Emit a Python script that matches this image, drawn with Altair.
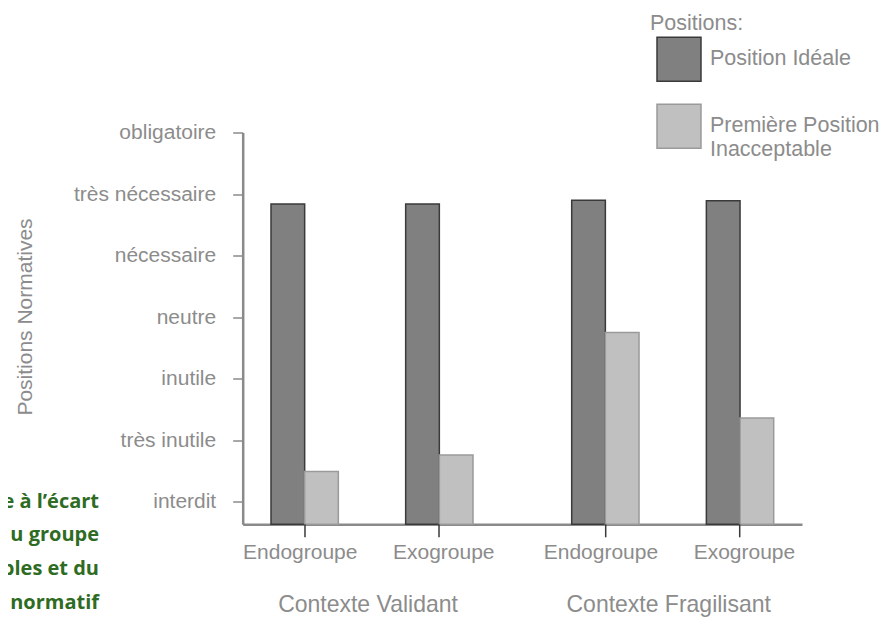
import json
import altair as alt
import pandas as pd

# ---------------- data ----------------
CONTEXTS = ["Contexte Validant", "Contexte Fragilisant"]
GROUPS = ["Endogroupe", "Exogroupe"]
SERIES = ["Position Idéale", "Première Position Inacceptable"]
# order: Validant-Endo, Validant-Exo, Fragilisant-Endo, Fragilisant-Exo
IDEALE = [4.84, 4.84, 4.90, 4.89]
PREMIERE = [0.49, 0.76, 2.75, 1.36]
LEVELS = ["interdit", "très inutile", "inutile", "neutre",
          "nécessaire", "très nécessaire", "obligatoire"]
SIDE_NOTE = ["e à l’écart", "u groupe", "ples et du", "normatif"]

Y_MIN = -0.367
GAPS = [" ", "  "]

rows = []
i = 0
for c in CONTEXTS:
    for g in GROUPS:
        for s, vals in zip(SERIES, [IDEALE, PREMIERE]):
            rows.append({"context": c, "group": g, "series": s,
                         "sub": f"{g} · {s}", "value": vals[i]})
        i += 1
df = pd.DataFrame(rows)
labels_df = pd.DataFrame([{"context": c, "group": g} for c in CONTEXTS for g in GROUPS])
note_df = pd.DataFrame({"k": [0]})

SUB_DOMAIN = ([f"{GROUPS[0]} · {s}" for s in SERIES] + GAPS +
              [f"{GROUPS[1]} · {s}" for s in SERIES])

# ---------------- styling ----------------
FONT = "Liberation Sans"
TXT = "#8c8c8c"
AX = "#8a8a8a"
W, H = 559.3, 391.8

x_enc = alt.X("context:N", sort=CONTEXTS,
              scale=alt.Scale(domain=CONTEXTS, paddingInner=0.3282, paddingOuter=0.0941),
              axis=alt.Axis(title=None, ticks=False, tickSize=0, labelAngle=0,
                            labelFontSize=23, labelFont=FONT, labelColor=TXT,
                            labelPadding=80.5, labelBaseline="middle", labelOffset=-4,
                            labelLimit=400,
                            domainColor=AX, domainWidth=2.5))

label_expr = json.dumps(LEVELS, ensure_ascii=False) + "[datum.value]"
y_enc = alt.Y("value:Q",
              scale=alt.Scale(domain=[Y_MIN, 6], nice=False, zero=False),
              axis=alt.Axis(values=list(range(7)), labelExpr=label_expr, grid=False,
                            tickSize=10, tickColor=AX, tickWidth=1.5,
                            domainColor=AX, domainWidth=2.5,
                            labelFontSize=21, labelFont=FONT, labelColor=TXT,
                            labelPadding=17,
                            title="Positions Normatives", titleFontSize=21,
                            titleFont=FONT, titleFontWeight="normal", titleColor=TXT,
                            titleAngle=270, titleX=-217.7, titleY=184,
                            titleAlign="center", titleBaseline="middle"))

legend = alt.Legend(title="Positions:", orient="none", legendX=407.3, legendY=-119.2,
                    symbolType="square", symbolSize=1936, symbolStrokeWidth=1.5,
                    symbolOffset=6, labelOffset=8, rowPadding=17, titlePadding=1.5,
                    titleFontSize=21.5, titleFont=FONT, titleFontWeight="normal",
                    titleColor=TXT, labelFontSize=21.5, labelFont=FONT, labelColor=TXT,
                    labelLimit=300, padding=0,
                    labelExpr="datum.label == 'Première Position Inacceptable' ? "
                              "['Première Position', 'Inacceptable'] : datum.label")

bars = alt.Chart(df).mark_bar(strokeWidth=1.5).encode(
    x=x_enc,
    xOffset=alt.XOffset("sub:N", scale=alt.Scale(domain=SUB_DOMAIN, paddingInner=0, paddingOuter=0)),
    y=y_enc,
    y2=alt.datum(Y_MIN),
    fill=alt.Fill("series:N", scale=alt.Scale(domain=SERIES, range=["#808080", "#c0c0c0"]),
                  legend=legend),
    stroke=alt.Stroke("series:N", scale=alt.Scale(domain=SERIES, range=["#3a3a3a", "#9a9a9a"]),
                      legend=legend),
)

grp_scale = alt.Scale(domain=GROUPS, paddingInner=0.9, paddingOuter=0.2037)

ticks = alt.Chart(labels_df).mark_rule(color="#3a3a3a", strokeWidth=1.5).encode(
    x=alt.X("context:N", sort=CONTEXTS),
    xOffset=alt.XOffset("group:N", scale=grp_scale),
    y=alt.value(H),
    y2=alt.value(H + 13),
)

grp_text = alt.Chart(labels_df).mark_text(
    font=FONT, fontSize=21, color=TXT, baseline="middle", align="center"
).encode(
    x=alt.X("context:N", sort=CONTEXTS),
    xOffset=alt.XOffset("group:N", scale=grp_scale),
    y=alt.value(H + 29),
    text="group:N",
)

note = alt.Chart(note_df).mark_text(
    font="Open Sans", fontWeight="bold", fontSize=20, color="#2e6b23",
    align="right", baseline="middle", lineHeight=33.8
).encode(
    x=alt.value(-143.7),
    y=alt.value(369.2),
    text=alt.value(SIDE_NOTE),
)

chart = alt.layer(bars, ticks, grp_text, note).resolve_scale(
    xOffset="independent"
).properties(
    width=W, height=H,
    autosize=alt.AutoSizeParams(type="none"),
    padding={"left": 234.7, "top": 124.5, "right": 79, "bottom": 96},
).configure_view(stroke=None)

chart.save("out.html", embed_options={"renderer": "svg", "actions": False})
